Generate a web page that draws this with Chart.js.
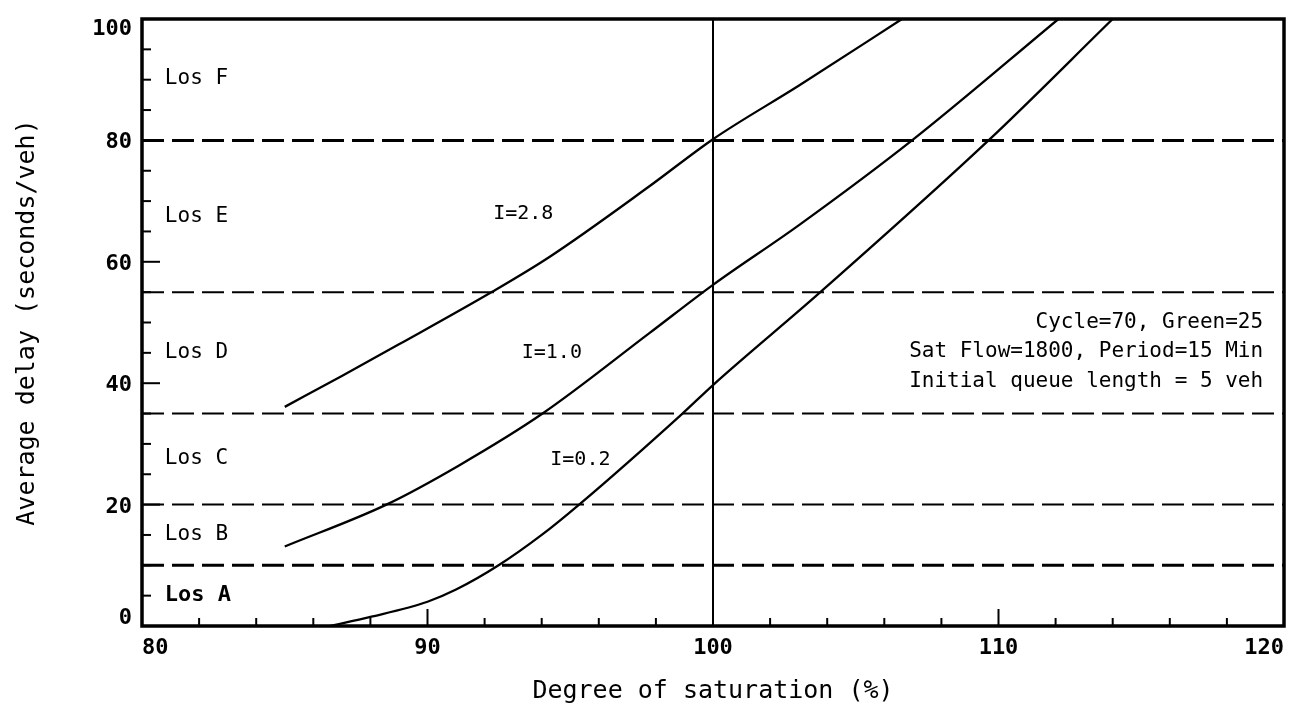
<!DOCTYPE html>
<html><head><meta charset="utf-8">
<script src="https://cdn.jsdelivr.net/npm/chart.js@4.4.0/dist/chart.umd.min.js"></script>
<style>html,body{margin:0;padding:0;background:#fff}</style>
</head><body>
<canvas id="c" width="1294" height="722" style="display:block;width:1294px;height:722px"></canvas>
<script>
// ---- data ----
const xTickValues = [80, 90, 100, 110, 120];
const yTickValues = [0, 20, 40, 60, 80, 100];
const losBoundaries = [80, 55, 35, 20, 10];
const losBoundaryWidths = [3, 2, 2, 2, 3];
const losLabels = ['Los F', 'Los E', 'Los D', 'Los C', 'Los B', 'Los A'];
const losLabelY = [90.3, 67.7, 45.2, 27.7, 15.3, 5.3];
const losLabelX = 80.8;

const i28X = [85.0, 87.0, 89.0, 92.28, 94.27, 97.76, 100.0, 103.0, 106.62];
const i28Y = [36.1, 41.2, 46.4, 55.1, 60.8, 72.4, 80.2, 89.0, 100];
const i10X = [85.0, 88.56, 91.12, 94.03, 97.76, 100.0, 103.0, 106.97, 112.1];
const i10Y = [13.1, 20.0, 26.5, 35.0, 48.2, 56.2, 66.0, 80.0, 100];
const i02X = [86.57, 88.0, 90.0, 91.0, 92.49, 94.0, 95.31, 98.93, 100.0, 103.76, 109.65, 114.0];
const i02Y = [0, 1.5, 4.0, 6.0, 10.0, 15.0, 20.0, 35.0, 39.7, 55.0, 80.0, 100];

const curveLabels = ['I=2.8', 'I=1.0', 'I=0.2'];
const curveLabelX = [92.3, 93.3, 94.3];
const curveLabelY = [68.0, 45.2, 27.6];

const infoLines = ['Cycle=70, Green=25', 'Sat Flow=1800, Period=15 Min', 'Initial queue length = 5 veh'];
const infoY = [50.1, 45.3, 40.5];
const infoX = 119.27;

const xTitle = 'Degree of saturation (%)';
const yTitle = 'Average delay (seconds/veh)';

// ---- build ----
const MONO = "'DejaVu Sans Mono', monospace";
const pts = (xs, ys) => xs.map((x, i) => ({x, y: ys[i]}));

const datasets = [];
losBoundaries.forEach((v, i) => {
  datasets.push({data: [{x: 80, y: v}, {x: 120, y: v}], borderColor: '#000',
    borderWidth: losBoundaryWidths[i], borderDash: [22, 8], borderCapStyle: 'butt',
    pointRadius: 0, showLine: true});
});
datasets.push({data: [{x: 100, y: 0}, {x: 100, y: 100}], borderColor: '#000', borderWidth: 2,
  pointRadius: 0, showLine: true});
[[i28X, i28Y], [i10X, i10Y], [i02X, i02Y]].forEach(([xs, ys]) => {
  datasets.push({data: pts(xs, ys), borderColor: '#000', borderWidth: 2.3, pointRadius: 0,
    showLine: true, cubicInterpolationMode: 'monotone'});
});

const decor = {
  id: 'decor',
  beforeDraw(chart) {
    const ctx = chart.ctx;
    ctx.save(); ctx.fillStyle = '#fff'; ctx.fillRect(0, 0, chart.width, chart.height); ctx.restore();
  },
  afterDatasetsDraw(chart) {
    const ctx = chart.ctx, a = chart.chartArea, xs = chart.scales.x, ys = chart.scales.y;
    ctx.save();
    ctx.strokeStyle = '#000';
    // ticks inward
    ctx.lineWidth = 2;
    for (let v = 82; v < 120; v += 2) {
      const px = xs.getPixelForValue(v);
      const len = (v % 10 === 0) ? 17 : 8;
      ctx.beginPath(); ctx.moveTo(px, a.bottom); ctx.lineTo(px, a.bottom - len); ctx.stroke();
    }
    for (let v = 5; v < 100; v += 5) {
      const py = ys.getPixelForValue(v);
      const len = (v % 20 === 0) ? 18 : 9;
      ctx.beginPath(); ctx.moveTo(a.left, py); ctx.lineTo(a.left + len, py); ctx.stroke();
    }
    // frame
    ctx.lineWidth = 3.5;
    ctx.strokeRect(a.left, a.top, a.right - a.left, a.bottom - a.top);

    // y tick labels
    ctx.fillStyle = '#000';
    ctx.font = "bold 22px " + MONO;
    ctx.textAlign = 'right';
    ctx.textBaseline = 'alphabetic';
    yTickValues.forEach((v, i) => {
      const py = ys.getPixelForValue(v);
      let base;
      if (i === 0) base = py - 2;
      else if (i === yTickValues.length - 1) base = py + 16;
      else base = py + 8;
      ctx.fillText(String(v), a.left - 10, base);
    });

    // LOS labels
    ctx.textAlign = 'left';
    ctx.textBaseline = 'middle';
    losLabels.forEach((t, i) => {
      ctx.font = (i === losLabels.length - 1 ? 'bold 22px ' : '21px ') + MONO;
      ctx.fillText(t, xs.getPixelForValue(losLabelX), ys.getPixelForValue(losLabelY[i]) + 1);
    });
    ctx.font = '20px ' + MONO;
    curveLabels.forEach((t, i) => {
      ctx.fillText(t, xs.getPixelForValue(curveLabelX[i]), ys.getPixelForValue(curveLabelY[i]) + 1);
    });
    ctx.textAlign = 'right';
    ctx.font = '21px ' + MONO;
    infoLines.forEach((t, i) => {
      ctx.fillText(t, xs.getPixelForValue(infoX), ys.getPixelForValue(infoY[i]) + 1);
    });
    ctx.restore();
  }
};

new Chart(document.getElementById('c'), {
  type: 'scatter',
  data: {datasets},
  options: {
    responsive: false, animation: false, devicePixelRatio: 1,
    layout: {padding: {top: 19, right: 10, left: 0, bottom: 0}},
    plugins: {legend: {display: false}, tooltip: {enabled: false}},
    scales: {
      x: {
        type: 'linear', min: 80, max: 120,
        afterBuildTicks: s => { s.ticks = xTickValues.map(v => ({value: v})); },
        ticks: {align: 'inner', padding: 9, color: '#000', font: {family: MONO, size: 22, weight: 'bold'}},
        grid: {display: false, drawTicks: false},
        border: {display: false},
        title: {display: true, text: xTitle, color: '#000', font: {family: MONO, size: 25}, padding: {top: 0, bottom: 16}},
        afterFit: s => { s.height = 96; s.paddingLeft = 0; s.paddingRight = 0; }
      },
      y: {
        type: 'linear', min: 0, max: 100,
        afterBuildTicks: s => { s.ticks = yTickValues.map(v => ({value: v})); },
        ticks: {display: false},
        grid: {display: false, drawTicks: false},
        border: {display: false},
        title: {display: true, text: yTitle, color: '#000', font: {family: MONO, size: 25}, padding: {top: 12, bottom: 0}},
        afterFit: s => { s.width = 142; s.paddingTop = 0; s.paddingBottom = 0; }
      }
    }
  },
  plugins: [decor]
});
</script>
</body></html>
